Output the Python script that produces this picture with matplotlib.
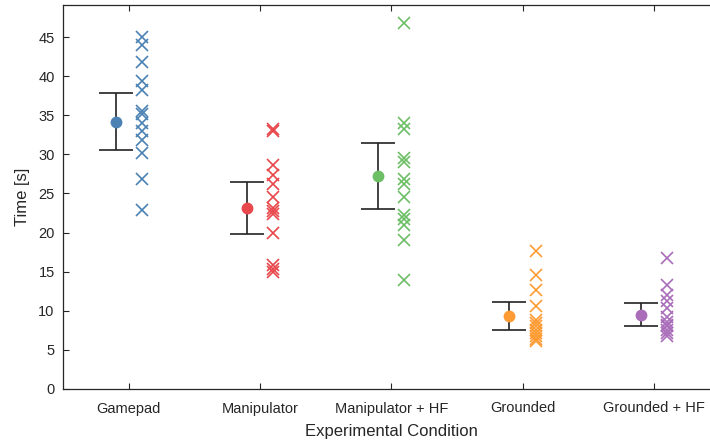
import matplotlib
matplotlib.use("Agg")
import matplotlib.pyplot as plt
import numpy as np

plt.rcParams['font.family'] = ['Liberation Sans', 'DejaVu Sans']

conditions = ["Gamepad", "Manipulator", "Manipulator + HF", "Grounded", "Grounded + HF"]
colors = ["#4b82b3", "#e8474b", "#6dbf66", "#ff9b33", "#a96db9"]

gamepad = [45.0, 44.0, 41.8, 39.4, 38.2, 35.6, 35.2, 34.0, 33.0, 31.8, 30.2, 26.9, 22.9]
manipulator = [33.3, 33.0, 28.7, 27.4, 26.2, 24.6, 23.2, 22.8, 22.4, 20.0, 15.8, 15.3, 14.9]
manipulator_hf = [46.8, 34.0, 33.2, 29.6, 29.0, 26.8, 26.2, 24.6, 22.2, 21.8, 21.0, 19.0, 14.0]
grounded = [17.6, 14.6, 12.6, 10.6, 8.8, 8.4, 8.0, 7.6, 7.2, 6.8, 6.4, 6.2]
grounded_hf = [16.8, 13.3, 12.0, 11.3, 10.4, 9.2, 8.6, 8.2, 8.0, 7.6, 7.2, 6.8]
trials = [gamepad, manipulator, manipulator_hf, grounded, grounded_hf]

means = [34.2, 23.2, 27.2, 9.3, 9.5]
ci_low = [30.5, 19.8, 23.0, 7.5, 8.0]
ci_high = [37.9, 26.5, 31.5, 11.1, 11.0]

fig = plt.figure(figsize=(7.1, 4.46), dpi=100)
ax = fig.add_axes([63 / 710, 57 / 446, 656.5 / 710, 384 / 446])

for i, (vals, m, lo, hi, c) in enumerate(zip(trials, means, ci_low, ci_high, colors)):
    ax.errorbar([i - 0.1], [m], yerr=[[m - lo], [hi - m]], fmt='none',
                ecolor='#222222', elinewidth=1.2, capsize=12.5, capthick=1.2, zorder=2)
    ax.plot([i - 0.1], [m], 'o', color=c, markersize=7.5, zorder=3)
    ax.plot(np.full(len(vals), i + 0.1), vals, 'x', color=c, markersize=8.5,
            markeredgewidth=1.2, linestyle='none', zorder=3)

ax.set_xlim(-0.5, 4.5)
ax.set_ylim(0, 49.1)
ax.set_xticks(range(len(conditions)))
ax.set_xticklabels(conditions, fontsize=10.5, color='#262626')
ax.set_yticks(np.arange(0, 46, 5))
ax.tick_params(axis='y', labelsize=10.5, labelcolor='#262626', pad=6)
ax.tick_params(axis='x', pad=9)
ax.tick_params(direction='in', length=4, width=0.8, color='#262626',
               top=True, right=False)
ax.spines['right'].set_visible(False)
for s in ax.spines.values():
    s.set_color('#262626')
    s.set_linewidth(0.9)

ax.set_xlabel("Experimental Condition", fontsize=12, color='#262626', labelpad=6)
ax.set_ylabel("Time [s]", fontsize=12, color='#262626', labelpad=6)

fig.savefig("out.png", dpi=100)
